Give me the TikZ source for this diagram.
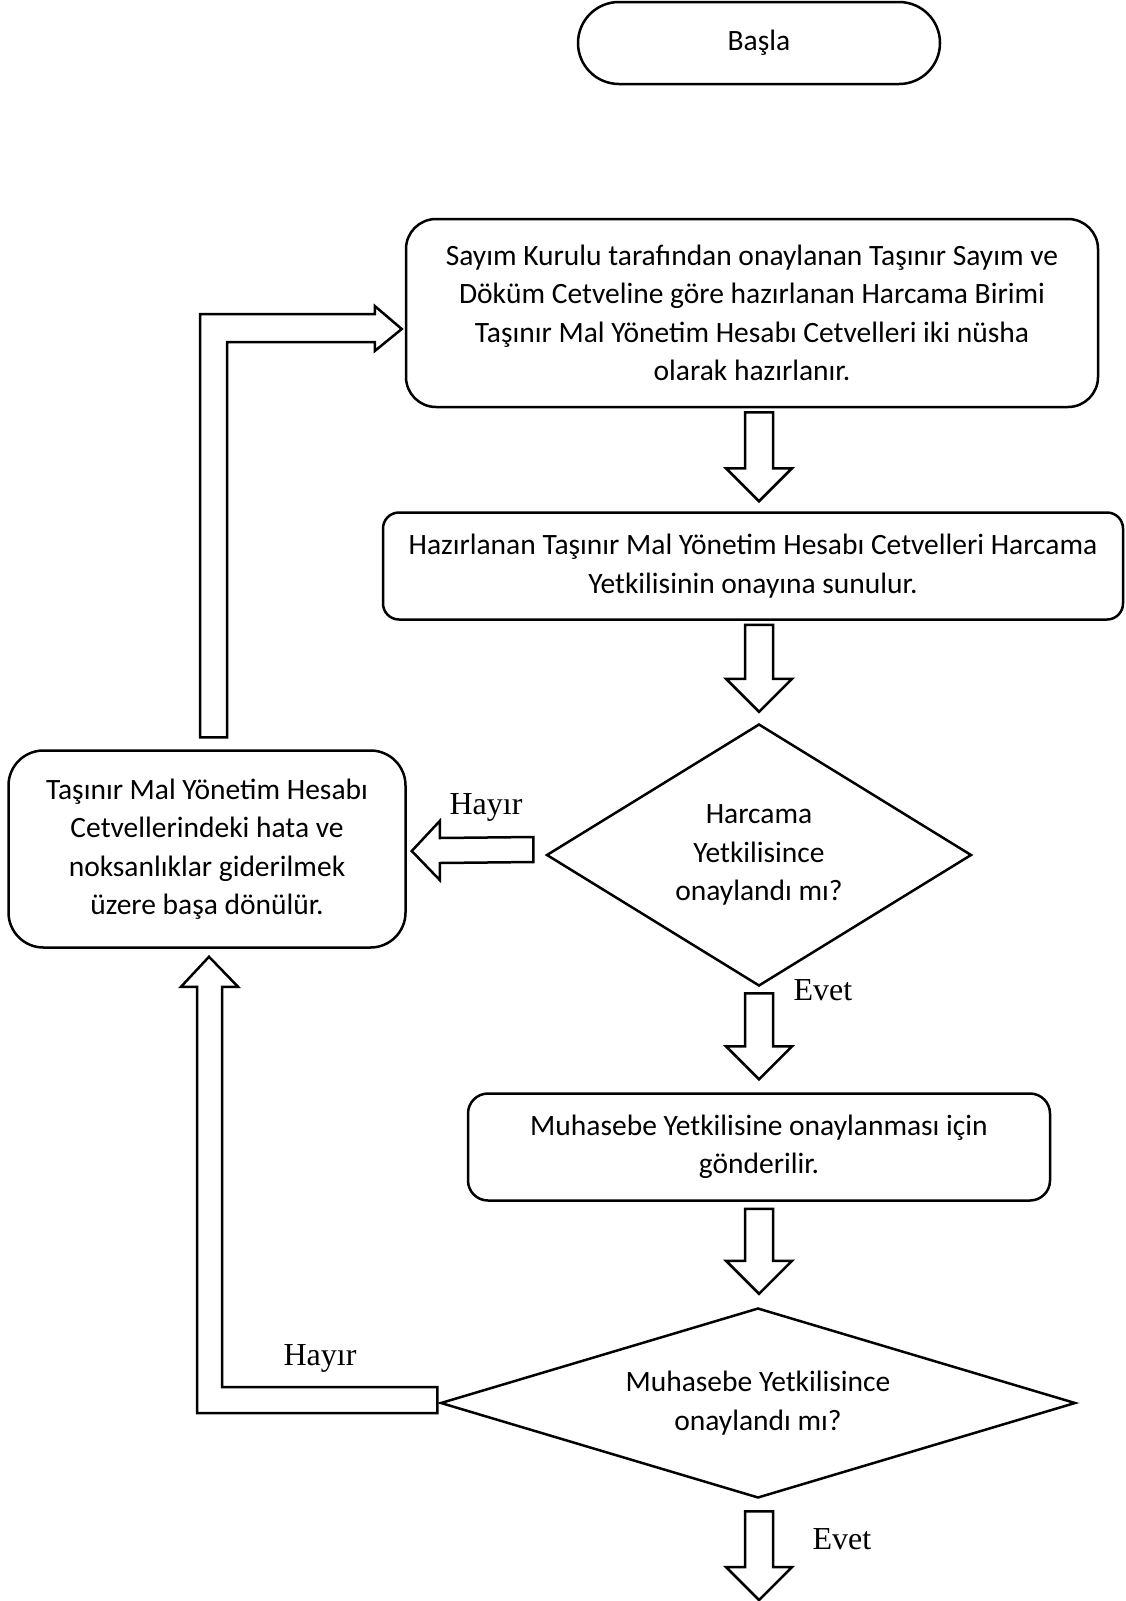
\documentclass[tikz,border=0pt]{standalone}
\usepackage{fontspec}
\setmainfont{Carlito}
\newfontfamily\labelfont{Liberation Serif}
\usetikzlibrary{shapes.geometric,calc}

\tikzset{
  flowbox/.style={draw,line width=2.5pt,fill=white,align=center,
    font=\fontsize{29.5}{38.5}\selectfont},
  decision/.style={draw,diamond,line width=2.5pt,fill=white,align=center,inner sep=0pt,
    font=\fontsize{29.5}{38.5}\selectfont},
  blockarrow/.style={draw,line width=2.5pt,fill=white,line join=miter},
  answer/.style={font=\labelfont\fontsize{32}{38}\selectfont}
}

\newcommand{\flowdown}[2]{%
  \draw[blockarrow] let \p1=(#1), \p2=(#2) in
    (\x1-14pt,\y1) -- (\x1+14pt,\y1) -- (\x1+14pt,\y2+33pt) -- (\x1+33pt,\y2+33pt)
    -- (\x1,\y2) -- (\x1-33pt,\y2+33pt) -- (\x1-14pt,\y2+33pt) -- cycle;}

\begin{document}
\begin{tikzpicture}[x=1pt,y=-1pt]
  \useasboundingbox (0,0) rectangle (1125,1601);

  \node[flowbox,minimum width=362,minimum height=82,rounded corners=41] (start) at (759,43) {Başla};
  \node[flowbox,minimum width=692,minimum height=188,rounded corners=30] (b1) at (752,313)
    {Sayım Kurulu tarafından onaylanan Taşınır Sayım ve\\Döküm Cetveline göre hazırlanan Harcama Birimi\\Taşınır Mal Yönetim Hesabı Cetvelleri iki nüsha\\olarak hazırlanır.};
  \node[flowbox,minimum width=740,minimum height=107,rounded corners=16] (b2) at (753,566)
    {Hazırlanan Taşınır Mal Yönetim Hesabı Cetvelleri Harcama\\Yetkilisinin onayına sunulur.};
  \node[decision,aspect=1.62,minimum width=425,minimum height=262] (d1) at (759,855)
    {Harcama\\Yetkilisince\\onaylandı mı?};
  \node[flowbox,minimum width=397,minimum height=197,rounded corners=35] (lbox) at (207,849)
    {Taşınır Mal Yönetim Hesabı\\Cetvellerindeki hata ve\\noksanlıklar giderilmek\\üzere başa dönülür.};
  \node[flowbox,minimum width=582,minimum height=107,rounded corners=20] (b3) at (759,1147)
    {Muhasebe Yetkilisine onaylanması için\\gönderilir.};
  \node[decision,aspect=3.34,minimum width=635,minimum height=190] (d2) at (758,1403)
    {Muhasebe Yetkilisince\\onaylandı mı?};
  \coordinate (finish) at (759,1600);

  \node[answer] (no1) at (486,807) {Hayır};
  \node[answer] (yes1) at (823,990) {Evet};
  \node[answer] (no2) at (320,1358) {Hayır};
  \node[answer] (yes2) at (842,1539) {Evet};

  \flowdown{$(b1.south -| d1.north)+(0,4)$}{$(b2.north -| d1.north)+(0,-10)$}
  \flowdown{$(b2.south -| d1.north)+(0,4)$}{$(d1.north)+(0,-11)$}
  \flowdown{$(d1.south)+(0,6)$}{$(b3.north -| d1.south)+(0,-13)$}
  \flowdown{$(b3.south -| d1.south)+(0,7)$}{$(d2.north -| d1.south)+(0,-13)$}
  \flowdown{$(d2.south -| d1.south)+(0,12)$}{finish}

  \draw[blockarrow] ($(d1.west)+(-12,-18)$) -- ($(lbox.east)+(33,-11)$) -- ($(lbox.east)+(33,-28)$)
    -- ($(lbox.east)+(5,2)$) -- ($(lbox.east)+(33,31)$) -- ($(lbox.east)+(33,14)$)
    -- ($(d1.west)+(-12,7)$) -- cycle;

  \draw[blockarrow] ($(lbox.north)+(-7,-12)$) -- ($(lbox.north |- b1.west)+(-7,1)$)
    -- ($(b1.west)+(-30,1)$) -- ($(b1.west)+(-30,-7)$) -- ($(b1.west)+(-3,16)$)
    -- ($(b1.west)+(-30,38)$) -- ($(b1.west)+(-30,29)$) -- ($(lbox.north |- b1.west)+(20,29)$)
    -- ($(lbox.north)+(20,-12)$) -- cycle;

  \draw[blockarrow] ($(d2.west)+(-2,10)$) -- ($(lbox.south |- d2.west)+(-10,10)$)
    -- ($(lbox.south)+(-10,38)$) -- ($(lbox.south)+(-26,38)$) -- ($(lbox.south)+(2,8)$)
    -- ($(lbox.south)+(31,38)$) -- ($(lbox.south)+(15,38)$) -- ($(lbox.south |- d2.west)+(15,-16)$)
    -- ($(d2.west)+(-2,-16)$) -- cycle;
\end{tikzpicture}
\end{document}
